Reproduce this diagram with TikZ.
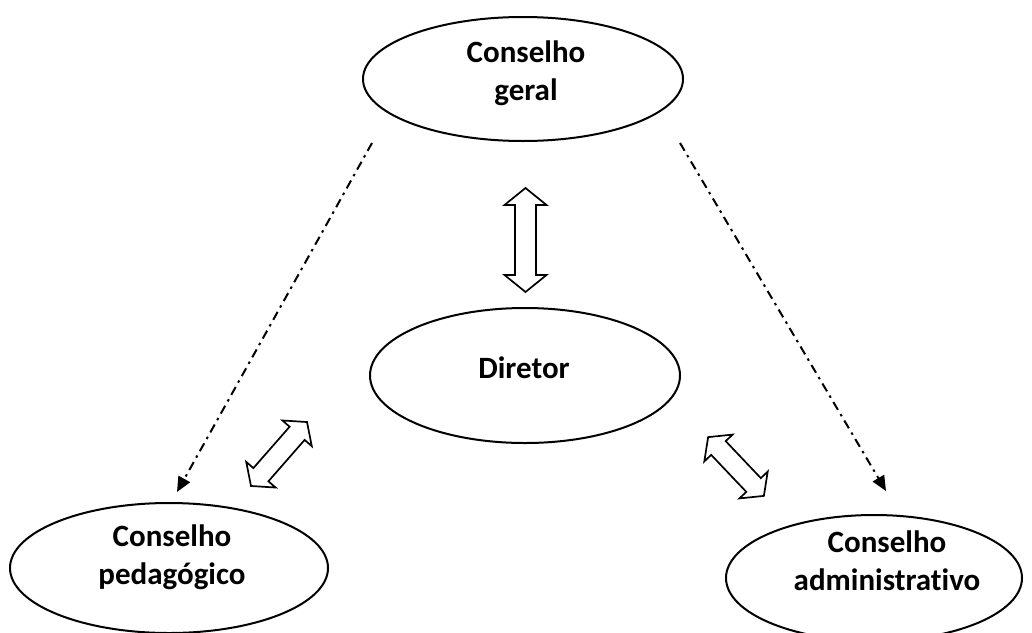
\documentclass[tikz,border=0pt]{standalone}
\usepackage{fontspec}
\setmainfont[Ligatures=NoCommon]{Carlito}
\usetikzlibrary{shapes.geometric,arrows.meta,calc}
\tikzset{
  oval/.style={ellipse, draw=black, line width=2pt, inner sep=0pt, fill=white},
  lbl/.style={font=\bfseries\fontsize{31pt}{38pt}\selectfont, align=center, inner sep=0pt},
  dashdot line/.style={line width=2pt, dash pattern=on 9pt off 5pt on 2.5pt off 5pt,
    -{Triangle[length=15pt,width=13pt]}},
  blockline/.style={draw=black, line width=1.7pt, fill=white, line join=miter},
}
\newcommand\blockarrow[7]{% cx cy angle length headlen halfshaft halfhead
  \begin{scope}[shift={(#1,#2)},rotate=#3]
    \pgfmathsetmacro\hl{#4/2}
    \pgfmathsetmacro\hb{#4/2-#5}
    \path[blockline] (-\hl,0) -- (-\hb,#7) -- (-\hb,#6) -- (\hb,#6) -- (\hb,#7) -- (\hl,0)
      -- (\hb,-#7) -- (\hb,-#6) -- (-\hb,-#6) -- (-\hb,-#7) -- cycle;
  \end{scope}}
\begin{document}
\begin{tikzpicture}[x=1pt,y=-1pt]
\clip (0,0) rectangle (1032,632);
\fill[white] (0,0) rectangle (1032,632);

% ellipses
\node[oval, minimum width=320pt, minimum height=124pt] (geral) at (523,79) {};
\node[oval, minimum width=310pt, minimum height=135pt] (diretor) at (525,375.5) {};
\node[oval, minimum width=318pt, minimum height=130pt] (ped) at (169,568) {};
\node[oval, minimum width=296pt, minimum height=126pt] (adm) at (874,578) {};

% labels
\node[lbl] (tgeral) at (526,73.5) {Conselho\\geral};
\node[lbl] (tdiretor) at (524,367.5) {Diretor};
\node[lbl] (tped) at (172,557.5) {Conselho\\pedagógico};
\node[lbl] (tadm) at (887,560.5) {Conselho\\administrativo};

% dash-dot connectors
\coordinate (gl) at ($(geral.center)+(-151,64)$);
\coordinate (gr) at ($(geral.center)+(157,64)$);
\coordinate (pl) at ($(ped.north)+(8,-10)$);
\coordinate (ar) at ($(adm.north)+(12,-23)$);
\draw[dashdot line] (gl) -- (pl);
\draw[dashdot line] (gr) -- (ar);

% block double arrows
\blockarrow{525.5}{240}{90}{104}{17}{10.5}{21}
\blockarrow{279}{454}{48.8}{85}{15}{10}{19.5}
\blockarrow{736}{466.5}{-46.5}{81}{15}{10}{19.5}
\end{tikzpicture}
\end{document}
